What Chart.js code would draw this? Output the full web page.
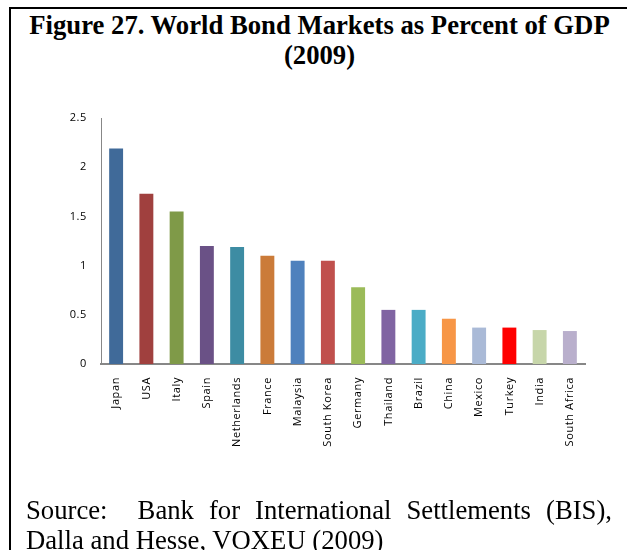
<!DOCTYPE html>
<html>
<head>
<meta charset="utf-8">
<script src="https://cdn.jsdelivr.net/npm/chart.js@4/dist/chart.umd.min.js"></script>
<style>
  html, body { margin: 0; padding: 0; background: #fff; }
  body { width: 627px; height: 550px; position: relative; overflow: hidden; }
  #frame {
    position: absolute; left: 9px; top: 7px; width: 640px; height: 600px;
    border-left: 2px solid #000; border-top: 2px solid #000;
  }
  .serif { font-family: "Liberation Serif", "Times New Roman", serif; font-size: 26.7px; line-height: 30px; }
  #title {
    position: absolute; left: 12px; width: 615px; top: 10px;
    text-align: center; font-weight: bold;
  }
  #source { position: absolute; left: 26px; width: 586px; top: 495px; }
  #source .first { text-align: justify; text-align-last: justify; }
  #wrap { position: absolute; left: 0; top: 0; width: 627px; height: 550px; }
</style>
</head>
<body>
<div id="frame"></div>
<div id="title" class="serif">Figure 27. World Bond Markets as Percent of GDP<br>(2009)</div>
<div id="wrap"><canvas id="bondChart"></canvas></div>
<div id="source" class="serif">
  <div class="first">Source:&nbsp; Bank for International Settlements (BIS),</div>
  <div>Dalla and Hesse, VOXEU (2009)</div>
</div>

<script>
// bond market size relative to GDP, 2009
const countries = ['Japan', 'USA', 'Italy', 'Spain', 'Netherlands', 'France', 'Malaysia', 'South Korea',
  'Germany', 'Thailand', 'Brazil', 'China', 'Mexico', 'Turkey', 'India', 'South Africa'];
const bondToGdp = [2.19, 1.73, 1.55, 1.20, 1.19, 1.10, 1.05, 1.05,
  0.78, 0.55, 0.55, 0.46, 0.37, 0.37, 0.345, 0.335];
const yTicks = [0, 0.5, 1, 1.5, 2, 2.5];

const barColors = ['#406A99', '#A0403E', '#7F9A48', '#6A5186', '#3D8CA3', '#CB7B39', '#4F81BD', '#C0504D',
  '#9BBB59', '#8064A2', '#4BACC6', '#F79646', '#AABAD7', '#FF0000', '#C7D6AA', '#B9AFCC'];

// slightly tracked-out axis text
const letterSpacing = {
  id: 'letterSpacing',
  beforeDraw(chart) { chart.ctx.letterSpacing = '0.6px'; }
};

new Chart(document.getElementById('bondChart'), {
  type: 'bar',
  data: {
    labels: countries,
    datasets: [{
      data: bondToGdp,
      backgroundColor: barColors,
      barPercentage: 0.46,
      categoryPercentage: 1
    }]
  },
  options: {
    responsive: true,
    maintainAspectRatio: false,
    animation: false,
    layout: { padding: { left: 40, right: 42, top: 118, bottom: 86 } },
    plugins: { legend: { display: false }, tooltip: { enabled: false } },
    scales: {
      x: {
        grid: { display: false, drawTicks: false },
        border: { display: true, color: '#878787', width: 2 },
        ticks: {
          autoSkip: false, minRotation: 90, maxRotation: 90, padding: 13,
          color: '#000', font: { family: 'Open Sans', size: 11 }
        },
        afterFit(scale) { scale.height = 100; }
      },
      y: {
        min: 0, max: 2.5,
        grid: { display: false, drawTicks: false },
        border: { display: true, color: '#878787', width: 1 },
        ticks: {
          padding: 14, color: '#000', font: { family: 'Open Sans', size: 11 },
          callback: v => String(v)
        },
        afterBuildTicks(scale) { scale.ticks = yTicks.map(v => ({ value: v })); },
        afterFit(scale) { scale.width = 61; }
      }
    }
  },
  plugins: [letterSpacing]
});
</script>
</body>
</html>
